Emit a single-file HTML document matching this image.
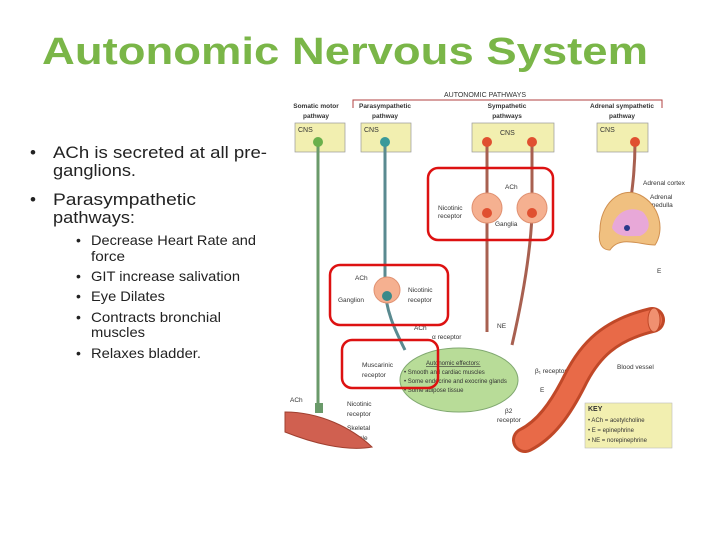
<!DOCTYPE html>
<html><head><meta charset="utf-8"><style>
html,body{margin:0;padding:0;background:#fff;}
svg{display:block;font-family:"Liberation Sans",sans-serif;}
</style></head><body>
<svg width="720" height="540" viewBox="0 0 720 540" xmlns="http://www.w3.org/2000/svg">
<rect width="720" height="540" fill="#fff"/>
<text x="42" y="64" font-size="38" font-weight="bold" fill="#7ab648" textLength="606" lengthAdjust="spacingAndGlyphs">Autonomic Nervous System</text>
<g font-size="17" fill="#222">
<text x="30" y="158">•</text><text x="53" y="158" textLength="214" lengthAdjust="spacingAndGlyphs">ACh is secreted at all pre-</text>
<text x="53" y="176" textLength="83" lengthAdjust="spacingAndGlyphs">ganglions.</text>
<text x="30" y="205">•</text><text x="53" y="205" textLength="143" lengthAdjust="spacingAndGlyphs">Parasympathetic</text>
<text x="53" y="223" textLength="82" lengthAdjust="spacingAndGlyphs">pathways:</text>
</g>
<g font-size="14" fill="#222">
<text x="76" y="245">•</text><text x="91" y="245" textLength="165" lengthAdjust="spacingAndGlyphs">Decrease Heart Rate and</text>
<text x="91" y="261" textLength="34" lengthAdjust="spacingAndGlyphs">force</text>
<text x="76" y="281">•</text><text x="91" y="281" textLength="149" lengthAdjust="spacingAndGlyphs">GIT increase salivation</text>
<text x="76" y="301">•</text><text x="91" y="301" textLength="74" lengthAdjust="spacingAndGlyphs">Eye Dilates</text>
<text x="76" y="322">•</text><text x="91" y="322" textLength="130" lengthAdjust="spacingAndGlyphs">Contracts bronchial</text>
<text x="91" y="337" textLength="54" lengthAdjust="spacingAndGlyphs">muscles</text>
<text x="76" y="358">•</text><text x="91" y="358" textLength="110" lengthAdjust="spacingAndGlyphs">Relaxes bladder.</text>
</g>
<!-- diagram -->
<text x="485" y="97" font-size="7" text-anchor="middle" fill="#333">AUTONOMIC PATHWAYS</text>
<path d="M353 108V100H662V108" fill="none" stroke="#b04040" stroke-width="1"/>
<g font-size="6.5" font-weight="bold" text-anchor="middle" fill="#333">
<text x="316" y="108">Somatic motor</text><text x="316" y="118">pathway</text>
<text x="385" y="108">Parasympathetic</text><text x="385" y="118">pathway</text>
<text x="507" y="108">Sympathetic</text><text x="507" y="118">pathways</text>
<text x="622" y="108">Adrenal sympathetic</text><text x="622" y="118">pathway</text>
</g>
<g fill="#f2efb0" stroke="#999" stroke-width="0.7">
<rect x="295" y="123" width="50" height="29"/><rect x="361" y="123" width="50" height="29"/>
<rect x="472" y="123" width="82" height="29"/><rect x="597" y="123" width="51" height="29"/>
</g>
<g font-size="7" fill="#333"><text x="298" y="132">CNS</text><text x="364" y="132">CNS</text><text x="500" y="135">CNS</text><text x="600" y="132">CNS</text></g>
<!-- axons -->
<path d="M318 142V403" stroke="#6a9a6a" stroke-width="3"/>
<path d="M385 142V285 C385 310 395 330 405 350" fill="none" stroke="#5a8a90" stroke-width="3"/>
<path d="M487 142V332" stroke="#a86050" stroke-width="3"/>
<path d="M532 142V215 C530 260 520 310 512 345" fill="none" stroke="#a86050" stroke-width="3"/>
<path d="M635 142 C635 180 630 200 628 225" fill="none" stroke="#a86050" stroke-width="3"/>
<!-- stars -->
<circle cx="318" cy="142" r="5" fill="#6ab04c"/><circle cx="385" cy="142" r="5" fill="#3a9a9a"/>
<circle cx="487" cy="142" r="5" fill="#e05030"/><circle cx="532" cy="142" r="5" fill="#e05030"/><circle cx="635" cy="142" r="5" fill="#e05030"/>
<!-- ganglia -->
<circle cx="487" cy="208" r="15" fill="#f5b090" stroke="#e09070"/><circle cx="532" cy="208" r="15" fill="#f5b090" stroke="#e09070"/>
<circle cx="487" cy="213" r="5" fill="#e05030"/><circle cx="532" cy="213" r="5" fill="#e05030"/>
<circle cx="387" cy="290" r="13" fill="#f5b090" stroke="#e09070"/><circle cx="387" cy="296" r="5" fill="#3a8a8a"/>
<g font-size="6.5" fill="#333">
<text x="505" y="189">ACh</text><text x="438" y="210">Nicotinic</text><text x="438" y="218">receptor</text><text x="495" y="226">Ganglia</text>
<text x="355" y="280">ACh</text><text x="338" y="302">Ganglion</text><text x="408" y="292">Nicotinic</text><text x="408" y="302">receptor</text>
<text x="414" y="330">ACh</text><text x="362" y="367">Muscarinic</text><text x="362" y="377">receptor</text>
<text x="432" y="339">α receptor</text><text x="497" y="328">NE</text><text x="535" y="373">β₁ receptor</text>
<text x="617" y="369">Blood vessel</text><text x="540" y="392">E</text><text x="505" y="413">β2</text><text x="497" y="422">receptor</text>
<text x="290" y="402">ACh</text><text x="347" y="406">Nicotinic</text><text x="347" y="416">receptor</text>
<text x="347" y="430">Skeletal</text><text x="347" y="440">muscle</text>
<text x="643" y="185">Adrenal cortex</text><text x="650" y="199">Adrenal</text><text x="650" y="207">medulla</text><text x="657" y="273">E</text>
</g>
<!-- adrenal -->
<path d="M600 230 C600 205 620 185 640 195 C660 205 665 230 655 245 C640 245 620 235 610 250 C600 250 598 240 600 230Z" fill="#f0c080" stroke="#d09050"/>
<path d="M612 228 C615 212 630 205 643 212 C652 222 650 232 640 236 C628 236 618 238 612 228Z" fill="#e8a8d8"/>
<circle cx="627" cy="228" r="3" fill="#2a3a8a"/>
<!-- ellipse -->
<ellipse cx="459" cy="380" rx="59" ry="32" fill="#b8dc98" stroke="#80a870"/>
<g font-size="6" fill="#333"><text x="426" y="365" text-decoration="underline">Autonomic effectors:</text>
<text x="404" y="374">• Smooth and cardiac muscles</text><text x="404" y="383">• Some endocrine and exocrine glands</text><text x="404" y="392">• Some adipose tissue</text></g>
<!-- blood vessel -->
<path d="M652 320 C610 330 590 350 575 380 C560 410 545 430 525 440" fill="none" stroke="#c04828" stroke-width="26" stroke-linecap="round"/>
<path d="M652 320 C610 330 590 350 575 380 C560 410 545 430 525 440" fill="none" stroke="#e86a48" stroke-width="20" stroke-linecap="round"/>
<ellipse cx="654" cy="320" rx="6" ry="12" fill="#f09070" stroke="#c04828"/>
<!-- muscle -->
<path d="M285 412 C320 412 352 428 372 447 C345 452 310 442 285 432Z" fill="#d06050" stroke="#a04030"/>
<rect x="315" y="403" width="8" height="10" fill="#6a9a6a"/>
<!-- red boxes -->
<g fill="none" stroke="#dd1111" stroke-width="2.5">
<rect x="428" y="168" width="125" height="72" rx="10"/>
<rect x="330" y="265" width="118" height="60" rx="10"/>
<rect x="342" y="340" width="96" height="48" rx="10"/>
</g>
<!-- key -->
<rect x="585" y="403" width="87" height="45" fill="#f2efb0" stroke="#bbb" stroke-width="0.6"/>
<g font-size="6" fill="#333"><text x="588" y="411" font-weight="bold" font-size="7">KEY</text>
<text x="588" y="422">• ACh = acetylcholine</text><text x="588" y="432">• E     = epinephrine</text><text x="588" y="442">• NE   = norepinephrine</text></g>
</svg>
</body></html>
